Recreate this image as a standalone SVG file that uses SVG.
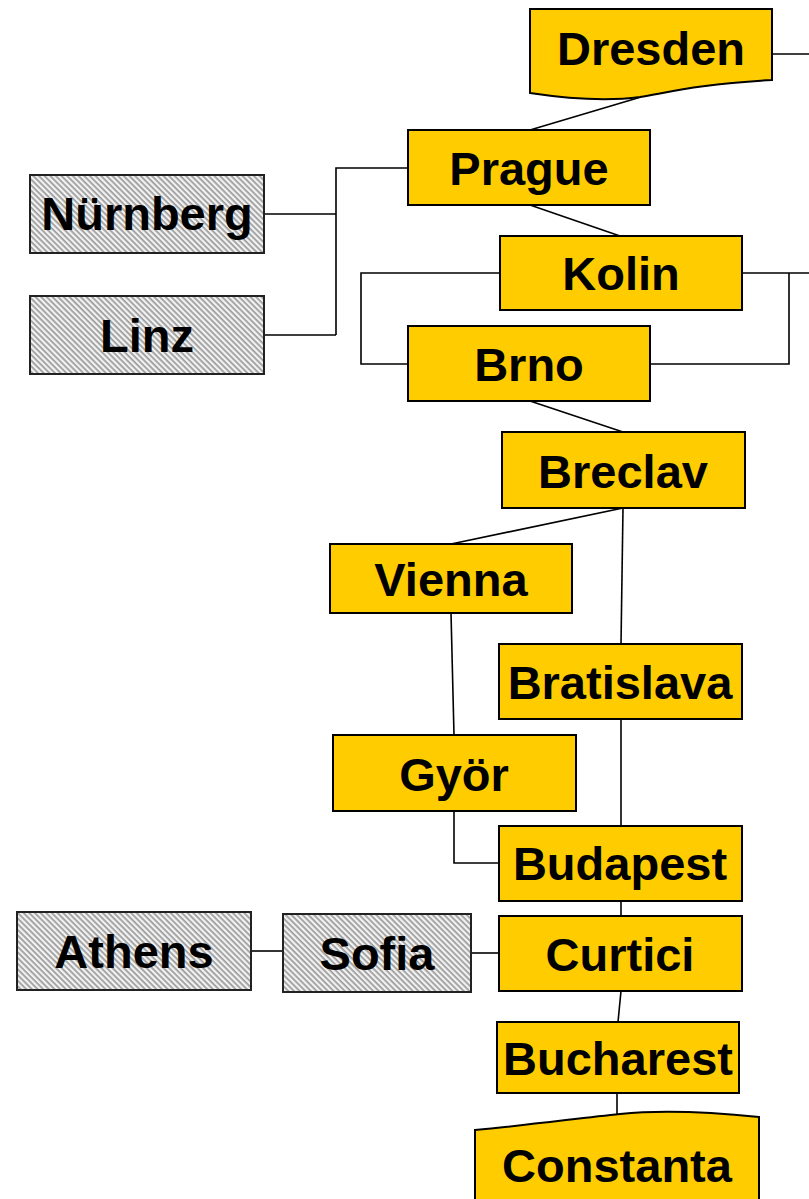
<svg xmlns="http://www.w3.org/2000/svg" width="809" height="1199" viewBox="0 0 809 1199">
<defs>
<pattern id="hatch" width="4" height="4" patternUnits="userSpaceOnUse" patternTransform="rotate(45)">
<rect width="4" height="4" fill="#f2f2f2"/>
<rect width="4" height="1.7" fill="#9a9a9a"/>
</pattern>
</defs>
<style>
.box{fill:#FFCC00;stroke:#000;stroke-width:2}
.grey{fill:url(#hatch);stroke:#222;stroke-width:2}
.lbl{font-family:"Liberation Sans",Arial,sans-serif;font-weight:bold;font-size:47px;text-anchor:middle;fill:#000}
.conn{fill:none;stroke:#000;stroke-width:1.6}
</style>
<rect width="809" height="1199" fill="#fff"/>
<g id="connectors">
<path class="conn" d="M772,54 H809"/>
<path class="conn" d="M641,97 L530,130"/>
<path class="conn" d="M264,214 H336 M264,335 H336 M336,335 V168 H408"/>
<path class="conn" d="M530,205 L620,236"/>
<path class="conn" d="M742,273 H809 M789,273 V364 H650"/>
<path class="conn" d="M500,273 H361 V364 H408"/>
<path class="conn" d="M530,401 L623,432"/>
<path class="conn" d="M623,508 L451,544"/>
<path class="conn" d="M623,508 L621,644"/>
<path class="conn" d="M451,613 L454,735"/>
<path class="conn" d="M454,811 V863 H499"/>
<path class="conn" d="M621,719 V826"/>
<path class="conn" d="M621,901 V916"/>
<path class="conn" d="M251,951 H283"/>
<path class="conn" d="M471,953 H499"/>
<path class="conn" d="M621,991 L618,1022"/>
<path class="conn" d="M617,1093 L617,1116"/>
</g>
<g id="dresden"><path class="box" d="M530,9 H772 V80 C700,84 670,92 640,97 C610,101 570,99 530,93 Z"/><text class="lbl" x="651" y="65">Dresden</text></g>
<g id="prague"><rect class="box" x="408" y="130" width="242" height="75"/><text class="lbl" x="529" y="185">Prague</text></g>
<g id="nurnberg"><rect class="grey" x="30" y="175" width="234" height="78"/><text class="lbl" x="147" y="230">Nürnberg</text></g>
<g id="linz"><rect class="grey" x="30" y="296" width="234" height="78"/><text class="lbl" x="147" y="352">Linz</text></g>
<g id="kolin"><rect class="box" x="500" y="236" width="242" height="74"/><text class="lbl" x="621" y="290">Kolin</text></g>
<g id="brno"><rect class="box" x="408" y="326" width="242" height="75"/><text class="lbl" x="529" y="381">Brno</text></g>
<g id="breclav"><rect class="box" x="502" y="432" width="243" height="76"/><text class="lbl" x="623" y="488">Breclav</text></g>
<g id="vienna"><rect class="box" x="330" y="544" width="242" height="69"/><text class="lbl" x="451" y="596">Vienna</text></g>
<g id="bratislava"><rect class="box" x="499" y="644" width="243" height="75"/><text class="lbl" x="620" y="699">Bratislava</text></g>
<g id="gyor"><rect class="box" x="333" y="735" width="243" height="76"/><text class="lbl" x="454" y="791">Györ</text></g>
<g id="budapest"><rect class="box" x="499" y="826" width="243" height="75"/><text class="lbl" x="620" y="880">Budapest</text></g>
<g id="athens"><rect class="grey" x="17" y="912" width="234" height="78"/><text class="lbl" x="134" y="968">Athens</text></g>
<g id="sofia"><rect class="grey" x="283" y="914" width="188" height="78"/><text class="lbl" x="377" y="970">Sofia</text></g>
<g id="curtici"><rect class="box" x="499" y="916" width="243" height="75"/><text class="lbl" x="620" y="971">Curtici</text></g>
<g id="bucharest"><rect class="box" x="497" y="1022" width="242" height="71"/><text class="lbl" x="618" y="1075">Bucharest</text></g>
<g id="constanta"><path class="box" d="M475,1130 C530,1125 580,1118 620,1114 C660,1110 700,1111 759,1117 V1210 H475 Z"/><text class="lbl" x="617" y="1182">Constanta</text></g>
</svg>
